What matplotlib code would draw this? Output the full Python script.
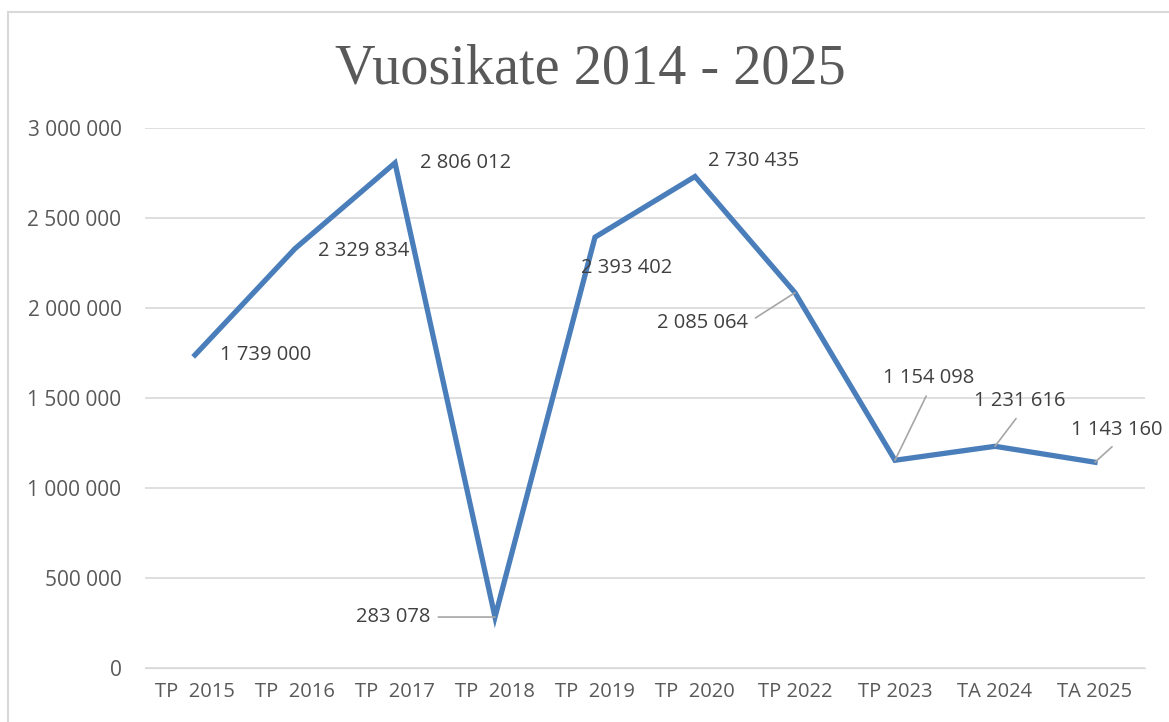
import matplotlib.pyplot as plt
from matplotlib.patches import Rectangle

# Vuosikate data
categories = ["TP  2015", "TP  2016", "TP  2017", "TP  2018", "TP  2019",
              "TP  2020", "TP 2022", "TP 2023", "TA 2024", "TA 2025"]
vuosikate = [1739000, 2329834, 2806012, 283078, 2393402,
             2730435, 2085064, 1154098, 1231616, 1143160]
y_ticks = [0, 500000, 1000000, 1500000, 2000000, 2500000, 3000000]


def fmt(v):
    return f"{v:,}".replace(",", " ")


# label placement: (dx, dy pixels, ha, leader)
label_style = [
    (25, 0, "left", None),
    (23, -2, "left", None),
    (25, 0, "left", None),
    (-65, 0, "right", (1.0, 0.5)),
    (-14, -31, "left", None),
    (13, 16, "left", None),
    (-47, -30, "right", (1.0, 0.5)),
    (34, 82, "center", (0.5, -0.1)),
    (25, 45, "center", (0.5, -0.1)),
    (22, 32, "center", (0.5, -0.1)),
]

fig = plt.figure(figsize=(11.69, 7.22), dpi=100)
ax = fig.add_axes([145 / 1169, 1 - 668 / 722, 1000 / 1169, 540 / 722])

x = list(range(len(categories)))
ax.plot(x, vuosikate, color="#4A7EBB", lw=3.8, solid_joinstyle="miter",
        zorder=3)

ax.set_xlim(-0.5, len(categories) - 0.5)
ax.set_ylim(0, 3000000)
ax.set_yticks(y_ticks)
ax.set_yticklabels([fmt(v) for v in y_ticks], fontsize=15,
                   family="Open Sans", color="#595959")
ax.set_xticks(x)
ax.set_xticklabels(categories, fontsize=14.5, family="Open Sans",
                   color="#595959")
ax.tick_params(length=0, pad=17, axis="y")
ax.tick_params(length=0, pad=10, axis="x")
ax.grid(axis="y", color="#D9D9D9", lw=1.2)
ax.set_axisbelow(True)
for s in ax.spines.values():
    s.set_visible(False)
ax.spines["bottom"].set_visible(True)
ax.spines["bottom"].set_color("#D9D9D9")

for i, v in enumerate(vuosikate):
    dx, dy, ha, leader = label_style[i]
    arrow = None
    if leader is not None:
        arrow = dict(arrowstyle="-", color="#A6A6A6", lw=1.2,
                     shrinkA=4, shrinkB=0, relpos=leader)
    ax.annotate(fmt(v), (i, v), xytext=(dx, dy), textcoords="offset pixels",
                ha=ha, va="center", fontsize=14.5, family="Open Sans",
                color="#404040", arrowprops=arrow, zorder=4)

fig.text(0.505, 1 - 69 / 722, "Vuosikate 2014 - 2025", ha="center",
         va="center", fontsize=40.5, family="Liberation Serif", color="#595959")

# chart frame
fig.patches.append(Rectangle((8 / 1169, -0.1), 1.2, 1 - 12 / 722 + 0.1,
                             transform=fig.transFigure, fill=False,
                             edgecolor="#D9D9D9", lw=1.5))

fig.savefig("out.png", dpi=100)
